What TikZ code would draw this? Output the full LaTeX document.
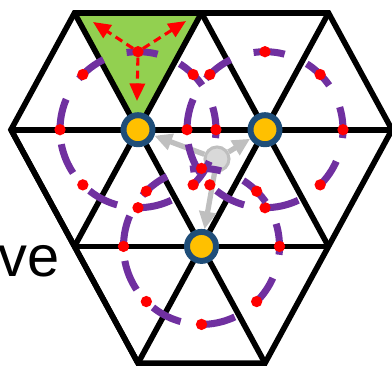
\documentclass[tikz,border=0pt]{standalone}
\usepackage{fontspec}
\newfontfamily\labelfont{Liberation Sans}
\usetikzlibrary{arrows.meta}

\definecolor{sitegold}{HTML}{FFC000}
\definecolor{siteedge}{HTML}{1F4E79}
\definecolor{cellgreen}{HTML}{92D050}
\definecolor{orbitpurple}{HTML}{7030A0}
\definecolor{hopgrey}{HTML}{BFBFBF}
\definecolor{ghostgrey}{HTML}{D9D9D9}

\pgfdeclarelayer{front}
\pgfsetlayers{main,front}

\tikzset{
  lattice/.style={line width=4.8pt, line join=miter},
  site/.style={circle, fill=sitegold, draw=siteedge, line width=5.1pt,
    minimum size=0.87cm, inner sep=0pt},
  ghost/.style={circle, fill=ghostgrey, draw=hopgrey, line width=2.6pt,
    minimum size=0.72cm, inner sep=0pt},
  orbit/.style={orbitpurple, line width=6pt,
    dash pattern=on 26.7pt off 20.7pt},
  rdot/.style={circle, fill=red, minimum size=0.34cm, inner sep=0pt},
  hop/.style={hopgrey, line width=4.5pt,
    -{Triangle[length=15pt,width=14pt]}},
  jump/.style={red, line width=2.6pt, dash pattern=on 6.8pt off 4.3pt,
    -{Triangle[length=15pt,width=13pt]}},
}

\begin{document}
\begin{tikzpicture}[x=1.905cm,y=-3.501cm]
  % Lattice units: half an edge across, one row down.
  \useasboundingbox (-0.1732,-0.1114) rectangle (6,3.0334);

  % Sites (kept on top).
  \begin{pgfonlayer}{front}
    \node[site] (n1) at (2,1) {};
    \node[site] (n2) at (4,1) {};
    \node[site] (n3) at (3,2) {};
  \end{pgfonlayer}

  % Shaded cell.
  \fill[cellgreen] (1,0) -- (3,0) -- (2,1) -- cycle;

  % Triangular lattice.
  \draw[lattice] (1,0) -- (5,0) -- (6,1) -- (5,2) -- (4,3) -- (2,3)
    -- (1,2) -- (0,1) -- cycle;
  \draw[lattice] (0,1) -- (6,1);
  \draw[lattice] (1,2) -- (5,2);
  \draw[lattice] (1,2) -- (3,0);
  \draw[lattice] (2,3) -- (5,0);
  \draw[lattice] (1,0) -- (4,3);
  \draw[lattice] (0,1) -- (2,3);
  \draw[lattice] (3,0) -- (5,2);

  % Displaced particle and its pull to the sites.
  \node[ghost] (g) at (3.244,1.251) {};
  \foreach \s in {n1,n2,n3}
    \draw[hop] (g) -- (\s);

  % Orbits round each site.
  \foreach \s in {n1,n2,n3}{
    \draw[orbit] ([shift={(180:2.34cm)}]\s.center)
      arc[start angle=180, end angle=-180, radius=2.34cm];
    \foreach \a in {0,45,...,315}
      \node[rdot] (\s-\a) at ([shift={(\a:2.34cm)}]\s.center) {};
  }

  % Hops out of the shaded cell.
  \coordinate (tl) at (1.291,0.077);
  \coordinate (tr) at (2.756,0.069);
  \coordinate (td) at (1.984,0.754);
  \draw[jump] (n1-90) -- (tl);
  \draw[jump] (n1-90) -- (tr);
  \draw[jump] (n1-90) -- (td);

  \node[anchor=base west, inner sep=0pt,
    font=\labelfont\fontsize{49.3}{50}\selectfont] (lbl) at (-0.205,2.262) {ve};
\end{tikzpicture}
\end{document}
